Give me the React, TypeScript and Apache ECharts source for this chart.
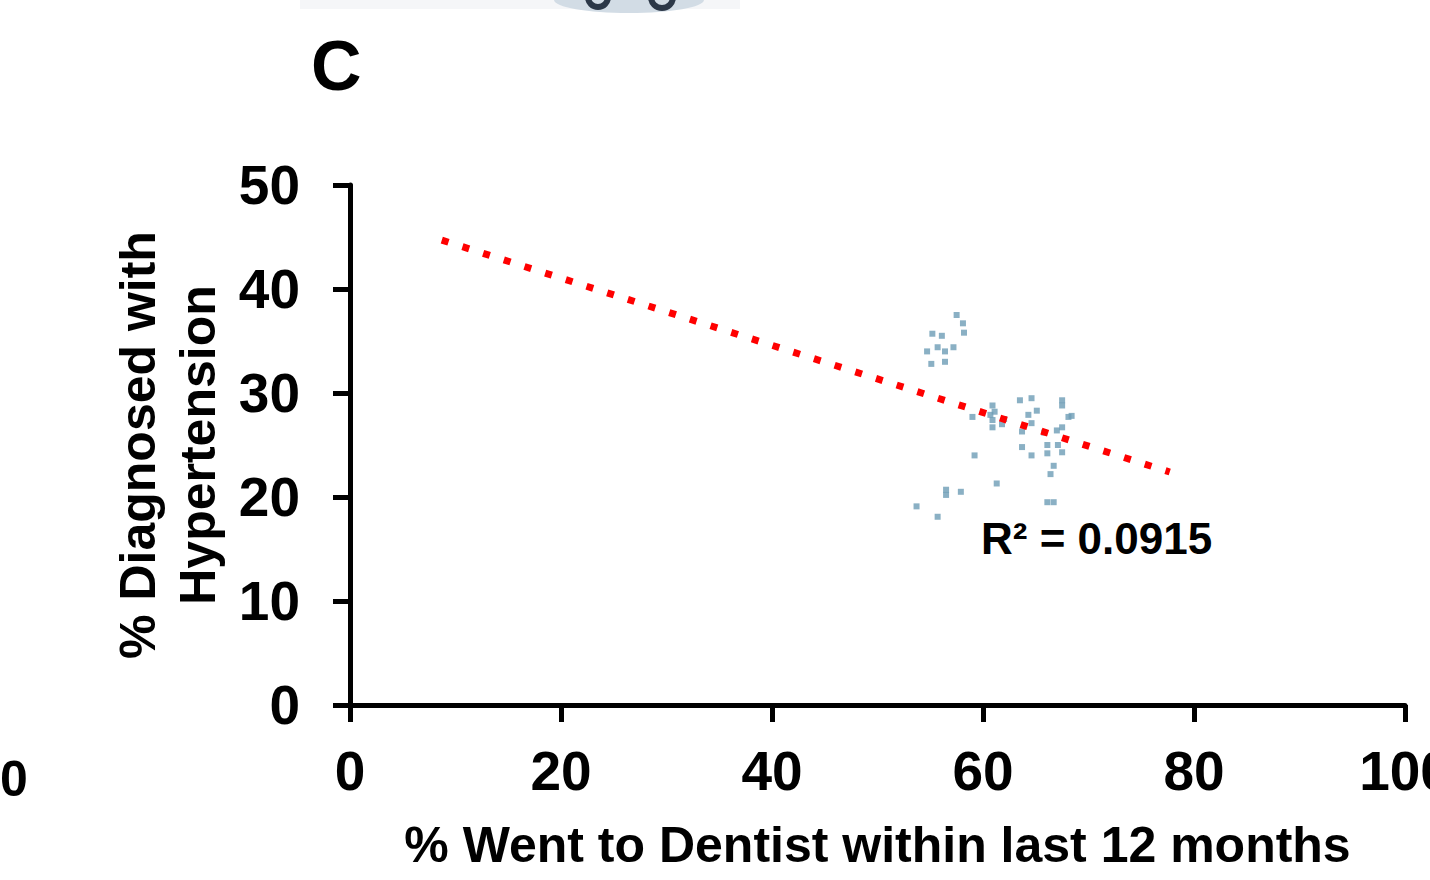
import React, { useEffect, useRef } from "react";
import * as echarts from "echarts";

const xTicks = [0, 20, 40, 60, 80, 100];
const yTicks = [0, 10, 20, 30, 40, 50];

// % went to dentist (x), % diagnosed with hypertension (y)
const pointsX = [
  57.5, 58.1, 55.2, 56.1, 58.2, 55.7, 57.2, 54.7, 56.4, 55.1, 56.4,
  60.9, 61.1, 63.5, 64.6, 67.5, 67.5, 59.0, 60.7, 60.9, 60.9, 64.3,
  65.1, 64.6, 68.1, 67.5, 67.0, 63.7, 63.7, 64.6, 66.1, 66.1, 67.1,
  67.5, 59.2, 66.7, 66.4, 61.3, 56.5, 57.9, 56.5, 53.7, 55.7, 66.1,
  66.7, 62.0, 65.8, 61.8, 68.4,
];
const pointsY = [
  37.5, 36.7, 35.7, 35.5, 35.8, 34.4, 34.4, 34.0, 34.0, 32.8, 33.0,
  28.8, 28.2, 29.3, 29.5, 29.3, 28.8, 27.7, 27.9, 27.4, 26.7, 27.9,
  28.3, 27.1, 27.7, 26.7, 26.4, 26.3, 24.8, 24.0, 25.0, 24.2, 25.0,
  24.3, 24.0, 23.0, 22.2, 21.3, 20.7, 20.5, 20.2, 19.1, 18.1, 19.5,
  19.5, 27.5, 26.2, 27.0, 27.8,
];

// linear trend line end points
const trendX = [8.7, 77.7];
const trendY = [44.7, 22.4];

const xTitle = "% Went to Dentist within last 12 months";
const yTitle = "% Diagnosed with\nHypertension";
const r2Label = "R² = 0.0915";
const panelLabel = "C";
const leftRemnant = "0";

const FONT = "'Liberation Sans', Arial, Helvetica, sans-serif";

export default function App() {
  const ref = useRef<HTMLDivElement>(null);

  useEffect(() => {
    if (!ref.current) return;
    const chart = echarts.init(ref.current, null, { renderer: "svg" });
    const scatterData = pointsX.map((x, i) => [x, pointsY[i]]);
    const trendData = trendX.map((x, i) => [x, trendY[i]]);

    chart.setOption({
      animation: false,
      backgroundColor: "#ffffff",
      grid: {
        left: 350,
        right: 25,
        top: 185,
        bottom: 175,
        containLabel: false,
        outerBoundsMode: "none",
      },
      xAxis: {
        type: "value",
        min: xTicks[0],
        max: xTicks[xTicks.length - 1],
        interval: 20,
        name: xTitle,
        nameLocation: "middle",
        nameGap: 115,
        nameTextStyle: {
          fontFamily: FONT,
          fontWeight: "bold",
          fontSize: 50,
          lineHeight: 50,
          color: "#000",
        },
        axisLine: { show: true, lineStyle: { color: "#000", width: 5 } },
        axisTick: { show: true, length: 17, lineStyle: { color: "#000", width: 5 } },
        axisLabel: {
          margin: 38,
          fontFamily: FONT,
          fontWeight: "bold",
          fontSize: 55,
          lineHeight: 55,
          color: "#000",
          showMaxLabel: true,
          hideOverlap: false,
        },
        splitLine: { show: false },
      },
      yAxis: {
        type: "value",
        min: yTicks[0],
        max: yTicks[yTicks.length - 1],
        interval: 10,
        name: yTitle,
        nameLocation: "middle",
        nameRotate: 90,
        nameGap: 122,
        nameTextStyle: {
          fontFamily: FONT,
          fontWeight: "bold",
          fontSize: 50,
          lineHeight: 60,
          color: "#000",
          align: "center",
        },
        axisLine: { show: true, lineStyle: { color: "#000", width: 5 } },
        axisTick: { show: true, length: 17, lineStyle: { color: "#000", width: 5 } },
        axisLabel: {
          margin: 50,
          fontFamily: FONT,
          fontWeight: "bold",
          fontSize: 55,
          lineHeight: 55,
          color: "#000",
          padding: [0, 0, 15, 0],
        },
        splitLine: { show: false },
      },
      series: [
        {
          type: "scatter",
          data: scatterData,
          symbol: "rect",
          symbolSize: 6,
          itemStyle: { color: "#6d9cb5" },
          z: 2,
        },
        {
          type: "line",
          data: trendData,
          symbol: "none",
          lineStyle: { color: "#ff0000", width: 7, type: [7, 14.7], cap: "butt" },
          z: 3,
        },
      ],
      graphic: [
        {
          type: "rect",
          shape: { x: 300, y: 0, width: 440, height: 9 },
          style: { fill: "#f5f6f8" },
          silent: true,
        },
        {
          type: "ellipse",
          shape: { cx: 629, cy: 0, rx: 75, ry: 13 },
          style: { fill: "#d2dce5" },
          silent: true,
        },
        {
          type: "arc",
          shape: { cx: 598, cy: -3, r: 10, startAngle: 0, endAngle: Math.PI },
          style: { stroke: "#2c3848", lineWidth: 6, fill: "none" },
          silent: true,
        },
        {
          type: "arc",
          shape: { cx: 662, cy: -3, r: 11, startAngle: 0, endAngle: Math.PI },
          style: { stroke: "#2c3848", lineWidth: 6, fill: "none" },
          silent: true,
        },
        {
          type: "text",
          x: 311,
          y: 66,
          style: {
            text: panelLabel,
            font: `bold 70px ${FONT}`,
            fill: "#000",
            textAlign: "left",
            textVerticalAlign: "middle",
          },
        },
        {
          type: "text",
          x: 981,
          y: 538,
          style: {
            text: r2Label,
            font: `bold 44px ${FONT}`,
            fill: "#000",
            textAlign: "left",
            textVerticalAlign: "middle",
          },
        },
        {
          type: "text",
          x: 0,
          y: 779,
          style: {
            text: leftRemnant,
            font: `bold 50px ${FONT}`,
            fill: "#000",
            textAlign: "left",
            textVerticalAlign: "middle",
          },
        },
      ],
    });

    return () => chart.dispose();
  }, []);

  return (
    <div
      ref={ref}
      style={{ position: "fixed", left: 0, top: 0, width: 1430, height: 880 }}
    />
  );
}
